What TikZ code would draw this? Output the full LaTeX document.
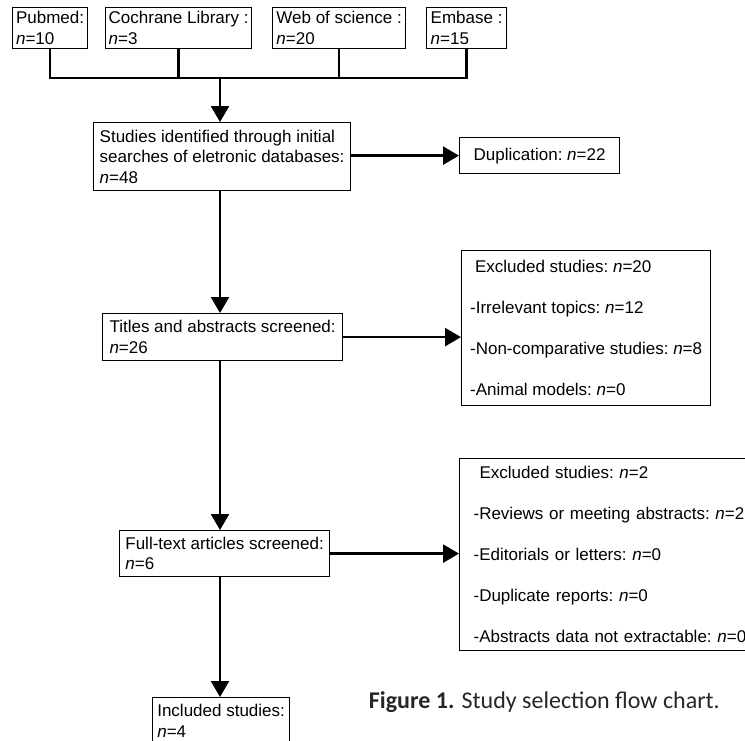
\documentclass[tikz,border=0pt]{standalone}
\usepackage{fontspec}
\setmainfont{Liberation Sans}
\newfontfamily\capfont{Carlito}
\usetikzlibrary{arrows.meta}
\newcommand{\ncount}{\textit{n}}
\tikzset{
  box/.style={draw, line width=1.2pt, anchor=north west, align=left, inner sep=0pt, font=\fontsize{17}{20.5}\selectfont\frenchspacing},
  srcbox/.style={box, minimum height=41pt},
  conn/.style={line width=2.5pt},
  arr/.style={conn, -{Triangle[width=18pt,length=16pt]}}
}

\begin{document}
\begin{tikzpicture}[x=1pt,y=-1pt,line join=miter]
\useasboundingbox (0,0) rectangle (745,740);
\node[srcbox, minimum width=75pt] (pubmed) at (12,7) {Pubmed:\\\ncount=10};
\node[srcbox, minimum width=146pt] (cochrane) at (105,7) {Cochrane Library :\\\ncount=3};
\node[srcbox, minimum width=133pt] (wos) at (272,7) {Web of science :\\\ncount=20};
\node[srcbox, minimum width=80pt] (embase) at (426,7) {Embase :\\\ncount=15};
\coordinate (bus) at (220,78);
\coordinate (spine) at (220,0);
\node[box, minimum width=257pt, minimum height=68pt] (ident) at (93,122) {Studies identified through initial\\searches of eletronic databases:\\\ncount=48};
\node[box, minimum width=160pt, minimum height=36pt] (dup) at (459,137) {Duplication: \ncount=22};
\node[box, minimum width=240pt, minimum height=47pt] (titles) at (102,313) {Titles and abstracts screened:\\\ncount=26};
\node[box, minimum width=249pt, minimum height=155pt] (exclA) at (461,250) {\hspace*{5pt}Excluded studies: \ncount=20\\[20.5pt]-Irrelevant topics: \ncount=12\\[20.5pt]-Non-comparative studies: \ncount=8\\[20.5pt]-Animal models: \ncount=0};
\node[box, minimum width=210pt, minimum height=46pt] (full) at (119,530) {Full-text articles screened:\\\ncount=6};
\node[box, inner xsep=14pt, text width=300pt, minimum height=192pt] (exclB) at (459,458) {\hspace*{6pt}Excluded studies: \ncount=2\\[20.5pt]-Reviews or meeting abstracts: \ncount=2\\[20.5pt]-Editorials or letters: \ncount=0\\[20.5pt]-Duplicate reports: \ncount=0\\[20.5pt]-Abstracts data not extractable: \ncount=0};
\node[box, minimum width=137pt, minimum height=46pt] (incl) at (152,697) {Included studies:\\\ncount=4};
\node[anchor=base east, inner sep=0pt, text=black!85, font=\capfont\fontsize{24}{28}\selectfont] (caption) at (720,708) {\textbf{Figure 1.} Study selection flow chart.};

\draw[conn] (pubmed.south) |- (bus) -| (embase.south);
\foreach \src in {cochrane,wos}
  \draw[conn] (\src.south) -- (\src.south |- bus);
\draw[arr] (bus) -- (ident.north -| bus);
\draw[arr] (dup.west -| ident.east) -- (dup.west);
\draw[arr] (ident.south -| spine) -- (titles.north -| spine);
\draw[arr] (titles.east) -- (titles.east -| exclA.west);
\draw[arr] (titles.south -| spine) -- (full.north -| spine);
\draw[arr] (full.east) -- (full.east -| exclB.west);
\draw[arr] (full.south -| spine) -- (incl.north -| spine);
\end{tikzpicture}
\end{document}
